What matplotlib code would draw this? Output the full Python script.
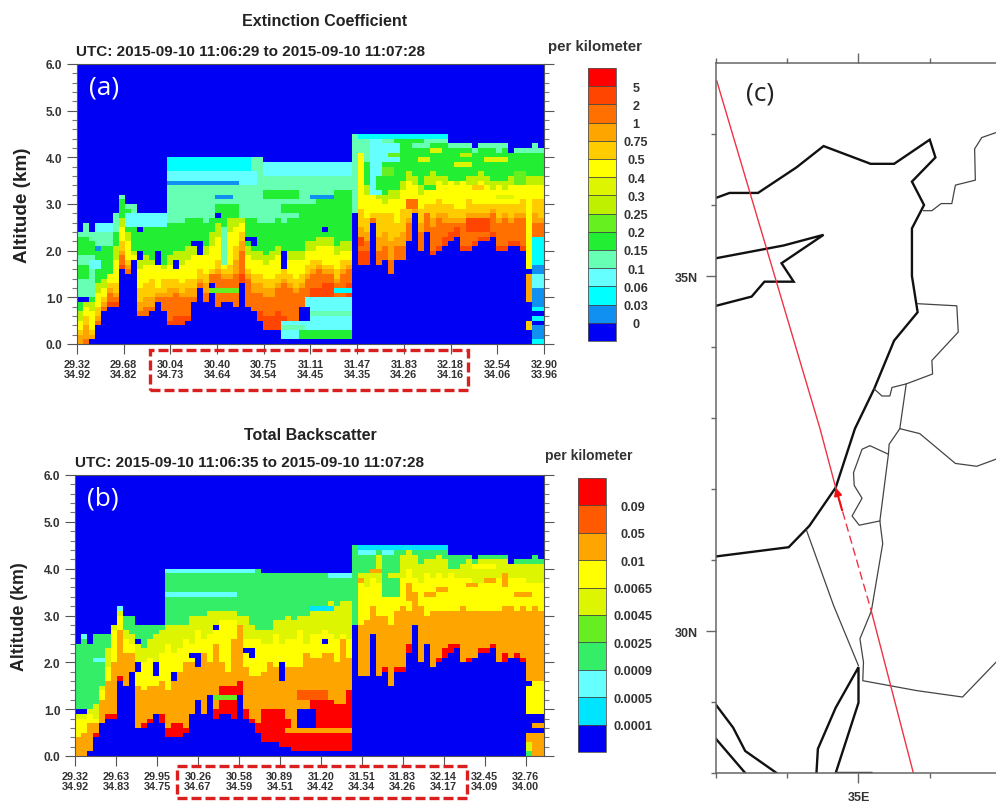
import matplotlib
matplotlib.use("Agg")
import matplotlib.pyplot as plt
from matplotlib.colors import ListedColormap, BoundaryNorm
from matplotlib.patches import Rectangle
import numpy as np

plt.rcParams['font.family'] = ['Liberation Sans', 'DejaVu Sans']

W, H = 996, 803
n_col, n_lev = 78, 60

# colour classes, bottom of the scale first
colors_a = ['#0000F5', '#1090F0', '#00FFFF', '#66FFFF', '#66FFB4', '#22EE33', '#66F020', '#BEF000',
            '#DDF500', '#FFFF00', '#FFCC00', '#FFA500', '#FF7000', '#FF4500', '#FF0000']
labels_a = ['0', '0.03', '0.06', '0.1', '0.15', '0.2', '0.25', '0.3', '0.4', '0.5', '0.75', '1', '2', '5']
colors_b = ['#0000F5', '#00E5FF', '#66FFFF', '#33EE66', '#66EE22', '#DDF500', '#FFFF00', '#FFA500', '#FF5A00', '#FF0000']
labels_b = ['0.0001', '0.0005', '0.0009', '0.0025', '0.0045', '0.0065', '0.01', '0.05', '0.09']

ticks_a = ['29.32\n34.92', '29.68\n34.82', '30.04\n34.73', '30.40\n34.64', '30.75\n34.54', '31.11\n34.45',
           '31.47\n34.35', '31.83\n34.26', '32.18\n34.16', '32.54\n34.06', '32.90\n33.96']
ticks_b = ['29.32\n34.92', '29.63\n34.83', '29.95\n34.75', '30.26\n34.67', '30.58\n34.59', '30.89\n34.51',
           '31.20\n34.42', '31.51\n34.34', '31.83\n34.26', '32.14\n34.17', '32.45\n34.09', '32.76\n34.00']

# heights are in 0.1 km levels, one value per profile
ground = [0, 0, 1, 4, 7, 8, 8, 16, 15, 18,
          6, 6, 7, 9, 7, 4, 4, 4, 5, 9,
          12, 9, 13, 8, 9, 9, 8, 13, 8, 6,
          5, 3, 3, 3, 2, 2, 1, 1, 1, 1,
          1, 1, 1, 1, 1, 1, 28, 17, 17, 26,
          17, 18, 15, 18, 18, 22, 28, 20, 24, 19,
          20, 21, 22, 23, 20, 20, 21, 22, 22, 23,
          20, 20, 21, 21, 20, 16, 0, 0]
layer_top = [24, 26, 24, 26, 26, 26, 28, 32, 30, 30,
             28, 28, 28, 28, 28, 40, 40, 40, 40, 40,
             40, 40, 40, 40, 40, 40, 40, 40, 40, 40,
             40, 39, 39, 39, 39, 39, 39, 39, 39, 39,
             39, 39, 39, 39, 39, 39, 45, 45, 45, 45,
             45, 45, 45, 45, 45, 45, 45, 45, 45, 45,
             45, 45, 43, 43, 43, 43, 42, 43, 43, 43,
             43, 43, 41, 42, 42, 42, 43, 42]

# panel (a): top of each colour band
a_red = [0, 0, 1, 4, 7, 9, 9, 17, 15, 18,
         6, 6, 7, 9, 7, 5, 6, 6, 6, 9,
         12, 9, 13, 8, 9, 9, 8, 15, 8, 7,
         7, 6, 6, 7, 6, 2, 2, 2, 2, 12,
         12, 13, 13, 9, 10, 13, 28, 20, 20, 26,
         17, 18, 15, 18, 18, 22, 28, 20, 24, 20,
         21, 23, 24, 25, 21, 21, 22, 23, 23, 24,
         21, 21, 22, 22, 21, 16, 0, 0]
a_dark = [0, 1, 1, 5, 8, 11, 10, 19, 16, 18,
          7, 8, 8, 10, 10, 10, 11, 10, 10, 10,
          13, 11, 15, 15, 14, 14, 15, 20, 14, 11,
          11, 10, 10, 12, 13, 12, 11, 12, 14, 15,
          16, 15, 15, 13, 15, 16, 28, 23, 22, 27,
          20, 21, 18, 21, 21, 26, 28, 24, 28, 25,
          27, 26, 26, 26, 26, 26, 27, 26, 27, 28,
          26, 27, 26, 27, 27, 16, 26, 26]
a_orange = [2, 4, 2, 6, 9, 12, 11, 20, 17, 18,
            9, 10, 10, 11, 11, 12, 12, 11, 12, 12,
            14, 13, 15, 16, 15, 15, 18, 22, 15, 13,
            13, 12, 12, 13, 14, 13, 12, 13, 15, 16,
            17, 16, 16, 14, 16, 17, 28, 25, 24, 27,
            23, 24, 22, 23, 24, 27, 29, 26, 28, 27,
            28, 28, 27, 27, 27, 28, 28, 28, 28, 29,
            27, 28, 27, 28, 28, 16, 28, 27]
a_gold = [3, 6, 3, 8, 10, 13, 13, 22, 18, 18,
          12, 13, 14, 12, 14, 14, 14, 13, 14, 14,
          16, 15, 16, 18, 16, 17, 21, 24, 16, 15,
          15, 14, 14, 15, 16, 15, 14, 15, 17, 18,
          18, 17, 17, 16, 18, 18, 28, 29, 27, 28,
          28, 28, 28, 26, 29, 29, 31, 29, 30, 30,
          31, 30, 30, 29, 29, 31, 30, 30, 30, 30,
          30, 30, 30, 30, 31, 16, 31, 31]
a_yellow = [5, 8, 7, 11, 12, 15, 18, 25, 22, 19,
            16, 17, 17, 18, 16, 17, 18, 17, 18, 19,
            20, 19, 21, 23, 19, 24, 25, 26, 19, 18,
            18, 17, 18, 19, 18, 18, 18, 18, 20, 20,
            21, 21, 21, 19, 20, 20, 28, 34, 32, 34,
            31, 30, 31, 31, 33, 35, 34, 32, 34, 34,
            35, 34, 35, 34, 35, 34, 34, 35, 34, 33,
            34, 33, 34, 34, 34, 34, 34, 34]
a_lime = [7, 9, 9, 13, 14, 15, 21, 27, 24, 20,
          18, 19, 18, 20, 17, 19, 20, 20, 21, 22,
          22, 21, 24, 26, 21, 27, 27, 27, 21, 20,
          20, 19, 20, 21, 20, 20, 20, 20, 22, 22,
          23, 23, 23, 21, 22, 22, 28, 37, 34, 36,
          33, 32, 33, 33, 35, 37, 36, 34, 36, 37,
          37, 36, 37, 36, 37, 36, 36, 37, 36, 35,
          36, 35, 36, 36, 36, 36, 36, 36]
a_green = [23, 23, 22, 21, 21, 21, 24, 31, 29, 27,
           25, 25, 25, 25, 25, 26, 26, 26, 27, 27,
           27, 26, 27, 29, 29, 28, 28, 27, 27, 27,
           26, 26, 26, 27, 26, 27, 27, 29, 30, 30,
           32, 32, 31, 32, 33, 33, 28, 42, 40, 41,
           42, 41, 40, 44, 44, 44, 42, 42, 42, 43,
           43, 43, 42, 42, 42, 42, 41, 42, 42, 42,
           41, 42, 41, 41, 41, 41, 41, 41]

# panel (b): top of each colour band
b_red = [0, 0, 1, 5, 7, 9, 9, 17, 15, 18,
         6, 7, 8, 9, 9, 6, 7, 7, 6, 9,
         12, 9, 13, 10, 15, 15, 15, 16, 10, 8,
         7, 10, 10, 10, 10, 8, 6, 6, 6, 12,
         12, 12, 12, 11, 11, 14, 28, 17, 17, 26,
         17, 19, 15, 19, 19, 24, 28, 20, 24, 19,
         21, 23, 24, 24, 20, 21, 21, 23, 23, 24,
         20, 22, 21, 22, 21, 16, 0, 0]
b_orange = [4, 5, 7, 7, 12, 16, 20, 27, 22, 22,
            15, 14, 15, 15, 16, 14, 18, 18, 20, 20,
            21, 22, 20, 24, 20, 18, 25, 28, 19, 17,
            17, 18, 20, 19, 20, 19, 19, 19, 22, 21,
            21, 22, 22, 20, 25, 21, 28, 28, 29, 32,
            30, 30, 28, 31, 32, 31, 35, 32, 30, 31,
            31, 31, 31, 31, 32, 31, 31, 31, 31, 31,
            31, 32, 32, 31, 32, 31, 32, 31]
b_yellow = [8, 8, 9, 8, 14, 19, 27, 30, 25, 24,
            18, 20, 21, 20, 22, 24, 22, 23, 25, 24,
            27, 25, 26, 28, 29, 29, 29, 28, 25, 25,
            25, 24, 24, 26, 24, 25, 25, 27, 24, 26,
            26, 27, 26, 25, 26, 25, 28, 38, 36, 38,
            37, 36, 37, 37, 38, 40, 38, 36, 39, 38,
            39, 38, 39, 38, 38, 38, 37, 37, 37, 38,
            38, 36, 38, 38, 38, 37, 37, 37]
b_lime = [9, 9, 10, 11, 15, 23, 28, 31, 27, 26,
          24, 23, 25, 26, 27, 28, 28, 28, 28, 30,
          30, 30, 31, 31, 31, 31, 31, 30, 30, 28,
          27, 27, 27, 29, 29, 30, 29, 30, 30, 32,
          31, 32, 33, 32, 33, 33, 28, 41, 39, 41,
          43, 42, 39, 43, 43, 44, 43, 41, 42, 42,
          43, 42, 42, 42, 41, 42, 41, 42, 42, 42,
          42, 42, 41, 41, 41, 41, 41, 41]

# features: first col, last col + 1, first level, last level + 1, class
holes = [(10, 11, 18, 20), (10, 11, 24, 25), (13, 14, 17, 20), (16, 17, 16, 18), (19, 20, 21, 22),
         (20, 21, 19, 22), (23, 24, 27, 28), (28, 29, 22, 23), (29, 30, 21, 23), (34, 35, 16, 20),
         (41, 42, 24, 25), (29, 30, 6, 7), (0, 2, 9, 10)]
a_streaks = [(0, 3, 10, 19, 4), (0, 2, 14, 17, 5), (2, 4, 16, 18, 3), (3, 4, 20, 21, 1),
             (3, 6, 24, 26, 3), (8, 15, 25, 28, 3), (15, 30, 28, 34, 4), (15, 29, 37, 40, 2),
             (15, 30, 34, 37, 3), (15, 27, 34, 35, 1), (23, 26, 31, 32, 1), (23, 27, 28, 30, 5),
             (24, 25, 17, 25, 4), (31, 46, 36, 39, 3), (31, 37, 31, 33, 5), (34, 40, 28, 30, 5),
             (39, 43, 31, 32, 1), (43, 46, 30, 33, 5),
             (34, 38, 1, 5, 3), (34, 38, 3, 4, 4), (38, 46, 1, 10, 3), (37, 46, 1, 3, 5),
             (38, 46, 6, 7, 4), (37, 39, 5, 8, 0), (43, 46, 11, 12, 2),
             (22, 27, 11, 12, 6), (47, 49, 39, 44, 4), (49, 51, 32, 44, 3), (51, 54, 39, 43, 3),
             (47, 62, 44, 45, 2), (54, 58, 43, 44, 5), (75, 76, 9, 15, 11), (75, 76, 3, 5, 10),
             (75, 76, 5, 9, 0), (75, 76, 15, 16, 0),
             (76, 78, 17, 23, 2), (76, 78, 15, 17, 1), (76, 78, 12, 15, 3), (76, 78, 8, 12, 1),
             (76, 78, 7, 8, 2), (76, 78, 6, 7, 0), (76, 78, 5, 6, 2), (76, 78, 4, 5, 0),
             (76, 78, 1, 4, 1), (76, 78, 0, 1, 2),
             # green pockets and yellow specks in the right hand block
             (50, 54, 33, 36, 5), (51, 53, 36, 38, 6), (62, 65, 35, 37, 5), (67, 69, 37, 38, 5),
             (60, 62, 36, 37, 5), (55, 57, 37, 38, 5), (73, 75, 34, 37, 6), (77, 78, 36, 37, 5),
             (47, 48, 34, 41, 9), (63, 66, 38, 39, 8), (68, 72, 39, 40, 8), (55, 57, 29, 31, 12),
             (65, 69, 24, 27, 13), (47, 48, 21, 23, 13), (58, 60, 33, 34, 5), (70, 72, 35, 36, 5),
             (57, 59, 39, 40, 8), (64, 66, 40, 41, 7), (52, 54, 40, 41, 6), (59, 61, 41, 42, 8),
             (70, 73, 31, 32, 8), (61, 63, 31, 32, 9), (53, 55, 30, 31, 9), (66, 68, 33, 34, 10)]
b_streaks = [(15, 30, 39, 40, 2), (15, 27, 34, 35, 2), (42, 46, 38, 39, 2), (39, 43, 31, 32, 1),
             (7, 8, 31, 32, 2), (1, 2, 25, 26, 2), (3, 5, 20, 21, 2), (47, 62, 44, 45, 1),
             (23, 27, 12, 13, 4), (37, 40, 6, 10, 0), (35, 46, 5, 6, 7), (75, 76, 15, 16, 0),
             (75, 76, 9, 15, 6), (75, 76, 5, 9, 0), (75, 76, 3, 5, 7), (75, 76, 1, 3, 5),
             (75, 76, 0, 1, 3), (76, 78, 9, 16, 6), (76, 78, 7, 9, 0), (76, 78, 6, 7, 7),
             (76, 78, 5, 6, 0), (76, 78, 0, 5, 7), (37, 42, 12, 14, 8),
             # green pockets and orange specks in the right hand block
             (47, 50, 39, 43, 3), (51, 54, 34, 43, 3), (62, 64, 40, 42, 3), (47, 50, 43, 44, 2),
             (51, 53, 43, 44, 2), (55, 56, 33, 37, 7), (65, 67, 36, 37, 7), (68, 70, 37, 38, 7),
             (71, 72, 36, 39, 7), (60, 62, 35, 36, 7), (58, 60, 34, 35, 7), (47, 48, 37, 38, 7),
             (49, 51, 39, 40, 7), (57, 59, 36, 37, 6), (64, 67, 33, 34, 6), (69, 72, 33, 34, 6),
             (60, 63, 32, 33, 6), (73, 76, 34, 35, 7), (52, 54, 38, 39, 5), (66, 70, 40, 41, 6)]

# map lines, lon / lat
coast_main = [(33.00, 36.10), (33.19, 36.17), (33.59, 36.17), (34.13, 36.53), (34.51, 36.83), (35.17, 36.58),
              (35.50, 36.58), (36.00, 36.92), (36.08, 36.67), (35.75, 36.33), (35.92, 36.00), (35.75, 35.67),
              (35.75, 35.00), (35.83, 34.49), (35.50, 34.09), (35.22, 33.41), (34.95, 32.85), (34.68, 32.02),
              (34.31, 31.48), (34.02, 31.18), (33.00, 31.05)]
coast_cyprus = [(33.00, 35.25), (33.95, 35.43), (34.51, 35.58), (33.92, 35.18), (34.09, 34.92), (33.68, 34.92),
                (33.50, 34.71), (33.00, 34.58)]
coast_suez = [(33.00, 28.96), (33.24, 28.64), (33.41, 28.31), (33.85, 28.00)]
coast_suez2 = [(33.00, 28.48), (33.41, 28.00)]
coast_aqaba = [(34.41, 28.00), (34.43, 28.34), (34.68, 28.92), (35.00, 29.49), (35.00, 28.99), (34.68, 28.00), (35.18, 28.00)]
border_turkey = [(35.91, 35.92), (36.03, 35.92), (36.16, 36.02), (36.31, 36.02), (36.36, 36.28), (36.64, 36.35),
                 (36.63, 36.79), (36.73, 36.95), (36.93, 37.02)]
border_lebanon = [(35.83, 34.61), (36.38, 34.58), (36.40, 34.21), (36.03, 33.81), (36.04, 33.62), (35.67, 33.48),
                  (35.47, 33.43), (35.44, 33.31), (35.33, 33.31), (35.22, 33.41)]
border_syria = [(35.67, 33.48), (35.58, 32.85), (35.86, 32.78), (36.36, 32.36), (36.66, 32.32), (36.93, 32.42)]
border_jordan = [(35.58, 32.85), (35.43, 32.63), (35.42, 32.49), (35.30, 31.55), (35.34, 31.23), (35.18, 30.28),
                 (35.02, 29.89), (35.07, 29.56), (35.06, 29.30), (35.44, 29.23), (35.82, 29.16), (36.46, 29.07),
                 (36.93, 29.56)]
border_westbank = [(35.42, 32.49), (35.16, 32.61), (35.05, 32.56), (34.93, 32.23), (34.94, 32.05), (35.05, 31.87),
                   (34.91, 31.62), (35.01, 31.49), (35.30, 31.55)]
border_sinai = [(34.27, 31.42), (34.65, 30.36), (35.00, 29.51)]
track_north = [(33.01, 37.75), (34.46, 32.85), (34.68, 32.02)]
track_dashed = [(34.68, 32.02), (35.18, 30.28)]
track_south = [(35.18, 30.28), (35.77, 28.00)]


def axes_px(x0, y0, x1, y1):
    # position given in picture pixels, y going down
    return [x0 / W, 1 - y1 / H, (x1 - x0) / W, (y1 - y0) / H]


def paint(bands, holes, streaks):
    grid = np.zeros((n_lev, n_col), dtype=int)
    for c in range(n_col):
        lo = ground[c]
        for top, cls in bands:
            hi = max(top[c], lo)
            grid[lo:hi, c] = cls
            lo = hi
    for c0, c1, l0, l1 in holes:
        grid[l0:l1, c0:c1] = 0
    for c0, c1, l0, l1, cls in streaks:
        grid[l0:l1, c0:c1] = cls
    return grid


def curtain(box, grid, colors, xlim, tick_labels, tick_step, label, ylab_size, ylab_x):
    ax = fig.add_axes(axes_px(*box))
    cmap = ListedColormap(colors)
    norm = BoundaryNorm(np.arange(len(colors) + 1), len(colors))
    x = np.linspace(xlim[0], xlim[1], n_col + 1)
    y = np.linspace(0, 6, n_lev + 1)
    mesh = ax.pcolormesh(x, y, grid, cmap=cmap, norm=norm)
    ax.set_xlim(xlim)
    ax.set_ylim(0, 6)
    ax.set_xticks(xlim[0] + tick_step * np.arange(len(tick_labels)))
    ax.set_xticklabels(tick_labels, fontsize=7.8, fontweight='bold', color='#333333', linespacing=1.1)
    ax.set_yticks(np.arange(0, 7))
    ax.set_yticklabels(['%.1f' % v for v in range(7)], fontsize=8.6, fontweight='bold', color='#333333')
    ax.set_yticks(np.arange(0, 6.01, 0.2), minor=True)
    ax.tick_params(axis='both', which='major', length=7, width=0.8, color='#555555', pad=3.5)
    ax.tick_params(axis='y', which='both', right=True)
    ax.tick_params(axis='y', which='minor', length=3.5, width=0.8, color='#777777')
    for s in ax.spines.values():
        s.set_color('#555555')
        s.set_linewidth(0.8)
    ax.set_ylabel('Altitude (km)', fontsize=ylab_size, fontweight='bold', color='#222222')
    ax.yaxis.set_label_coords(-(box[0] - ylab_x) / (box[2] - box[0]), 0.5)
    ax.text(0.025, 0.895, label, transform=ax.transAxes, color='white', fontsize=19, family='Open Sans')
    return mesh


def colourbar(mesh, box, labels, pad):
    cax = fig.add_axes(axes_px(*box))
    cb = fig.colorbar(mesh, cax=cax, drawedges=True, spacing='uniform')
    cb.set_ticks(np.arange(1, len(labels) + 1), labels=labels)
    cb.minorticks_off()
    cb.outline.set_edgecolor('#555555')
    cb.outline.set_linewidth(0.6)
    cb.dividers.set_color('#444444')
    cb.dividers.set_linewidth(0.6)
    cax.tick_params(length=0, pad=pad, labelsize=9.1, labelcolor='#333333')
    for t in cax.get_yticklabels():
        t.set_ha('center')
        t.set_fontweight('bold')


def dashed_box(x0, y0, x1, y1):
    fig.patches.append(Rectangle((x0 / W, 1 - y1 / H), (x1 - x0) / W, (y1 - y0) / H, transform=fig.transFigure,
                                 fill=False, edgecolor='#D9201F', linewidth=2.4, linestyle=(0, (3, 1.2)),
                                 clip_on=False, zorder=10))


fig = plt.figure(figsize=(W / 100, H / 100), dpi=100)

grid_a = paint([(a_red, 13), (a_dark, 12), (a_orange, 11), (a_gold, 10), (a_yellow, 9), (a_lime, 7),
                (a_green, 5), (layer_top, 4)], holes, a_streaks)
grid_b = paint([(b_red, 9), (b_orange, 7), (b_yellow, 6), (b_lime, 5), (layer_top, 3)], holes, b_streaks)

mesh_a = curtain((77, 65, 544, 345), grid_a, colors_a, (29.32, 32.90), ticks_a, 0.358, '(a)', 13.6, 31)
mesh_b = curtain((75, 476, 544, 757), grid_b, colors_b, (29.32, 32.90), ticks_b, 0.3127, '(b)', 12.8, 28)
colourbar(mesh_a, (588, 69, 616, 342), labels_a, 14.4)
colourbar(mesh_b, (578, 479, 606, 753), labels_b, 19.4)

fig.text(325 / W, 1 - 22 / H, 'Extinction Coefficient', fontsize=11.5, fontweight='bold', color='#222222', ha='center', va='center')
fig.text(76 / W, 1 - 52 / H, 'UTC: 2015-09-10 11:06:29 to 2015-09-10 11:07:28', fontsize=11, fontweight='bold', color='#222222', va='center')
fig.text(595 / W, 1 - 47 / H, 'per kilometer', fontsize=10.8, fontweight='bold', color='#333333', ha='center', va='center')
fig.text(310 / W, 1 - 436 / H, 'Total Backscatter', fontsize=11.5, fontweight='bold', color='#222222', ha='center', va='center')
fig.text(75 / W, 1 - 463 / H, 'UTC: 2015-09-10 11:06:35 to 2015-09-10 11:07:28', fontsize=11, fontweight='bold', color='#222222', va='center')
fig.text(589 / W, 1 - 456 / H, 'per kilometer', fontsize=10, fontweight='bold', color='#333333', ha='center', va='center')

dashed_box(150, 351, 468, 391)
dashed_box(177, 767, 467, 799)

# map panel, runs off the right edge of the picture
ax_map = fig.add_axes(axes_px(716, 64, 996, 774))
ax_map.set_xlim(33, 36.93)
ax_map.set_ylim(28, 38)
for line in [coast_main, coast_cyprus, coast_suez, coast_suez2, coast_aqaba]:
    ax_map.plot(*zip(*line), color='#111111', lw=1.7, solid_joinstyle='miter')
for line in [border_turkey, border_lebanon, border_syria, border_jordan, border_westbank, border_sinai]:
    ax_map.plot(*zip(*line), color='#444444', lw=0.9)
ax_map.plot(*zip(*track_north), color='#EE3344', lw=1.0)
ax_map.plot(*zip(*track_south), color='#EE3344', lw=1.0)
ax_map.plot(*zip(*track_dashed), color='#EE3344', lw=1.0, linestyle=(0, (6, 3)))
ax_map.annotate('', xy=track_dashed[0], xytext=(34.77, 31.70),
                arrowprops=dict(arrowstyle='-|>', color='#EE1111', lw=1.5, shrinkA=0, shrinkB=0, mutation_scale=11))
ax_map.spines['right'].set_visible(False)
for s in ['left', 'top', 'bottom']:
    ax_map.spines[s].set_color('#666666')
    ax_map.spines[s].set_linewidth(1.1)
ax_map.set_xticks([35])
ax_map.set_xticklabels(['35E'], fontsize=9, fontweight='bold', color='#333333')
ax_map.set_xticks([33, 34, 36], minor=True)
ax_map.set_yticks([30, 35])
ax_map.set_yticklabels(['30N', '35N'], fontsize=9, fontweight='bold', color='#333333')
ax_map.set_yticks([28, 29, 31, 32, 33, 34, 36, 37], minor=True)
ax_map.tick_params(axis='both', which='major', length=7, width=1, color='#666666', top=True, pad=6)
ax_map.tick_params(axis='both', which='minor', length=3.5, width=1, color='#666666', top=True)
fig.text(746 / W, 1 - 94 / H, '(c)', fontsize=19, family='Open Sans', color='#222222', va='center')

fig.savefig('out.png', dpi=100)
